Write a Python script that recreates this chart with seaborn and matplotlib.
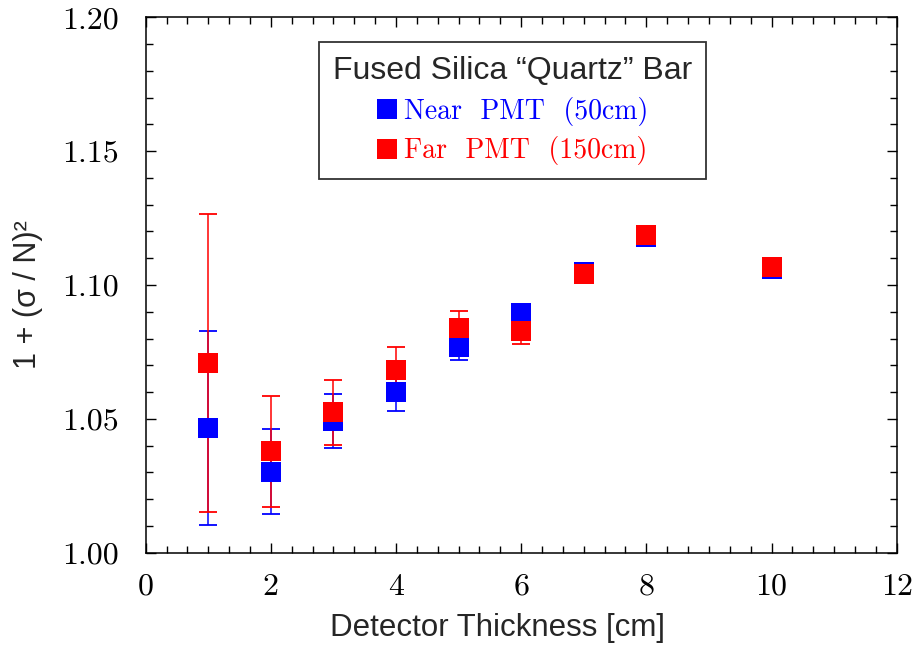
import matplotlib
matplotlib.use("Agg")
import matplotlib.pyplot as plt
from matplotlib.lines import Line2D
import seaborn as sns
import pandas as pd

thickness = [1, 2, 3, 4, 5, 6, 7, 8, 10]
near_y = [1.0467, 1.0303, 1.0492, 1.0600, 1.0769, 1.0894, 1.1047, 1.1180, 1.1060]
near_err = [0.0362, 0.0160, 0.0100, 0.0071, 0.0050, 0.0035, 0.0020, 0.0015, 0.0015]
far_y = [1.0709, 1.0378, 1.0524, 1.0683, 1.0840, 1.0829, 1.1041, 1.1185, 1.1066]
far_err = [0.0558, 0.0208, 0.0121, 0.0085, 0.0062, 0.0050, 0.0020, 0.0015, 0.0015]
series_labels = ["Near  PMT  (50cm)", "Far  PMT  (150cm)"]
legend_title = "Fused Silica “Quartz” Bar"
x_ticks = [0, 2, 4, 6, 8, 10, 12]
y_ticks = [1.00, 1.05, 1.10, 1.15, 1.20]

sns.set_theme(style="ticks")
sans = "Liberation Sans"
plt.rcParams["font.family"] = ["cmr10", "DejaVu Serif"]
plt.rcParams["axes.formatter.use_mathtext"] = True

fig = plt.figure(figsize=(9.15, 6.48), dpi=100)
ax = fig.add_axes([0.1592, 0.1471, 0.8208, 0.8262])

df = pd.DataFrame({
    "x": thickness * 2,
    "y": near_y + far_y,
    "err": near_err + far_err,
    "series": [series_labels[0]] * len(thickness) + [series_labels[1]] * len(thickness),
})
colors = {series_labels[0]: "#0000ff", series_labels[1]: "#ff0000"}

for s in series_labels:
    sub = df[df.series == s]
    ax.errorbar(sub.x, sub.y, yerr=sub.err, fmt="none", ecolor=colors[s],
                elinewidth=1.1, capsize=6.8, capthick=1.3, zorder=2)
    sns.scatterplot(data=sub, x="x", y="y", color=colors[s], marker="s",
                    s=205, linewidth=0, ax=ax, zorder=3, legend=False)

ax.set_xlim(0, 12)
ax.set_ylim(1.0, 1.2)
ax.set_xticks(x_ticks)
ax.set_xticklabels([str(t) for t in x_ticks])
ax.set_yticks(y_ticks)
ax.set_yticklabels([f"{t:.2f}" for t in y_ticks])
ax.set_xticks([i / 3 for i in range(37)], minor=True)
ax.set_yticks([1.0 + i * 0.01 for i in range(21)], minor=True)
ax.tick_params(which="both", direction="in", top=True, right=True, colors="black", width=1)
ax.tick_params(which="major", length=7.5, labelsize=23)
ax.tick_params(which="minor", length=5)
ax.tick_params(axis="y", which="major", pad=19)
ax.tick_params(axis="x", which="major", pad=15)
for sp in ax.spines.values():
    sp.set_linewidth(1.1)
    sp.set_color("black")

ax.set_xlabel("Detector Thickness [cm]", family=sans, fontsize=22.5)
ax.set_ylabel("1 + (σ / N)²", family=sans, fontsize=22)
ax.xaxis.set_label_coords(0.468, -0.112)
ax.yaxis.set_label_coords(-0.137, 0.483)

handles = [Line2D([], [], linestyle="none", marker="s", markersize=14.5,
                  markerfacecolor=colors[s], markeredgewidth=0) for s in series_labels]
leg = ax.legend(handles, series_labels, title=legend_title, loc="upper left",
                bbox_to_anchor=(0.2305, 0.953), frameon=True, fancybox=False,
                framealpha=1, edgecolor="#333333", fontsize=20,
                labelcolor=[colors[s] for s in series_labels],
                handlelength=0.75, handletextpad=0.25, labelspacing=0.38,
                borderpad=0.5, borderaxespad=0)
leg.get_frame().set_linewidth(1.3)
leg.get_title().set_family(sans)
leg.get_title().set_fontsize(23)

fig.savefig("out.png", dpi=100)
